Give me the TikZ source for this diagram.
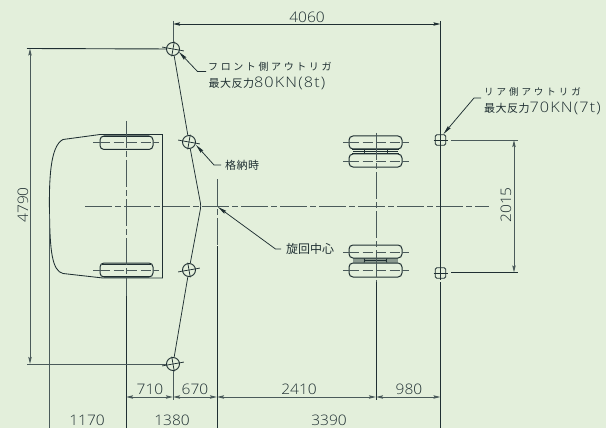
\documentclass[tikz,border=0pt]{standalone}
\usepackage{fontspec}
\usetikzlibrary{arrows.meta,calc}
\newfontfamily\dimf[FakeStretch=1.07]{Open Sans Light}
\newfontfamily\dimw[FakeStretch=1.12,LetterSpace=8]{Open Sans Light}
\newfontfamily\jpf[LetterSpace=26]{Noto Sans CJK JP}
\newfontfamily\jpr[LetterSpace=31]{Noto Sans CJK JP}
\newfontfamily\jpg[LetterSpace=4]{Noto Sans CJK JP}
\newfontfamily\jpn{Noto Sans CJK JP}
\definecolor{bgc}{HTML}{E3EFDB}
\definecolor{ink}{HTML}{1F2F32}
\definecolor{mid}{HTML}{4A5A5A}
\definecolor{pale}{HTML}{8B9A90}
\tikzset{
  x=1pt,y=-1pt,
  ln/.style={draw=ink,line width=0.9pt},
  thin line/.style={draw=ink,line width=0.75pt},
  gr/.style={draw=mid,line width=0.9pt},
  centre/.style={draw=mid,line width=0.9pt,dash pattern=on 27pt off 3pt on 6pt off 3pt},
  wheelaxis/.style={draw=mid,line width=0.9pt,dash pattern=on 10pt off 3.5pt},
  dimtip/.style={{Stealth[length=7pt,width=3.4pt,inset=1pt]}-{Stealth[length=7pt,width=3.4pt,inset=1pt]}},
  leadtip/.style={{Stealth[length=9pt,width=3.4pt,inset=1pt]}-},
  dimtext/.style={text=ink,inner sep=0pt,font=\dimf\fontsize{14.5}{15}\selectfont},
  jtext/.style={text=ink,inner sep=0pt,anchor=west,align=left},
  rig/.style={circle,draw=ink,line width=0.9pt,minimum size=13pt,inner sep=0pt},
  rigs/.style={rectangle,rounded corners=1.5pt,draw=ink,line width=0.9pt,minimum size=10.5pt,inner sep=0pt},
  tyre/.style={draw=ink,line width=1pt,rounded corners=4pt},
}
\begin{document}
\begin{tikzpicture}
\useasboundingbox (0,0) rectangle (606,428);
\fill[bgc] (0,0) rectangle (606,428);
% outriggers
\node[rig] (fa) at (173,49) {};
\node[rig] (fb) at (189,142) {};
\node[rig] (fc) at (189,270) {};
\node[rig] (fd) at (173,364) {};
\node[rigs] (ra) at (440.5,140) {};
\node[rigs] (rb) at (440.5,273) {};
\coordinate (apex) at (201,206);
\draw[thin line,rounded corners=3pt] (fa) -- (fb) -- (apex) -- (fc) -- (fd);
% outrigger centre ticks
\foreach \n/\a in {fa/10,fb/10,fc/-10,fd/-10}{
  \draw[thin line] ($(\n)+({-11*cos(\a)},{-11*sin(\a)})$) -- ($(\n)+({11*cos(\a)},{11*sin(\a)})$);
  \draw[thin line] ($(\n)+({-7.5*sin(\a)},{7.5*cos(\a)})$) -- ($(\n)+({7.5*sin(\a)},{-7.5*cos(\a)})$);
}
\draw[thin line] (433.5,140) -- (447.5,140) (440.5,133) -- (440.5,147);
\draw[thin line] (433.5,273) -- (447.5,273) (440.5,266) -- (440.5,280);
% truck body
\draw[ln,line width=0.85pt] (100,134.5) -- (162.5,134.5) -- (162.5,278) -- (103,278)
  -- (63,273.5) .. controls (52,271) and (50,250) .. (49.5,214)
  .. controls (49,180) and (50,146) .. (63,139.5) -- cycle;
% front wheels
\draw[tyre] (100,136) rectangle (153,149.5);
\draw[tyre] (100,263) rectangle (153,277);
\draw[ln] (102,136.8)--(151,136.8) (102,264)--(151,264) (102,276)--(151,276);
\draw[mid,line width=0.9pt] (93,142.5)--(100,142.5) (153,142.5)--(159,142.5) (93,270)--(100,270) (153,270)--(159,270);
\draw[wheelaxis] (100,142.5)--(153,142.5);
\draw[wheelaxis] (100,270)--(153,270);
% rear wheels
\fill[pale] (353,258) rectangle (398,263);
\draw[tyre] (349,136) rectangle (402,149);
\draw[tyre] (349,154) rectangle (402,167);
\draw[tyre] (349,245) rectangle (402,258);
\draw[tyre] (349,263) rectangle (402,277);
\foreach \yy in {142.5,161,252,270}{
  \draw[mid,line width=0.9pt] (343,\yy)--(349,\yy) (402,\yy)--(409,\yy);
  \draw[wheelaxis] (349,\yy)--(402,\yy);
}
\draw[ink,line width=0.7pt] (352,149.8)--(399,149.8) (353,151.5)--(398,151.5) (352,153.2)--(399,153.2);
\draw[ink,line width=1pt] (364,150)--(364,153) (387,150)--(387,153);
\draw[ink,line width=1.3pt] (364,260.5)--(387,260.5);
\draw[ink,line width=0.8pt] (364,258.5)--(365,260.5)--(364,262.5) (387,258.5)--(386,260.5)--(387,262.5);
% centre lines
\draw[centre] (85,206.5)--(489,206.5);
\draw[centre] (126,121)--(126,296);
\draw[centre] (217,179)--(217,246);
\draw[centre] (376,133)--(376,282);
\draw[ln] (126,296)--(126,428);
\draw[ln] (217,246)--(217,428);
\draw[ln] (376,282)--(376,400);
% extension lines
\coordinate (topL) at (173,21);
\coordinate (topR) at (440.5,21);
\draw[gr] (topL)--(fa);
\draw[ln] (topR)--(ra);
\draw[ln] (ra)--(rb);
\draw[ln] (440.5,282)--(440.5,428);
\draw[gr] (fd)--(173,400);
\draw[gr] (49.5,214)--(49.5,428);
\draw[ln] (27,48.5)--(fa);
\draw[gr] (27,364)--(fd);
\draw[gr] (451,140)--(518,140);
\draw[ln] (451,272.5)--(518,272.5);
% dimensions
\coordinate (tA) at (173,24);
\coordinate (tB) at (440.5,24);
\draw[ln,dimtip] (tA)--(tB);
\node[dimtext] (t4060) at (307,17) {4060};
\coordinate (lA) at (30,48.5);
\coordinate (lB) at (30,364);
\draw[gr,dimtip] (lA)--(lB);
\node[dimtext,rotate=90] (t4790) at (23,205) {4790};
\coordinate (rA) at (514,140);
\coordinate (rB) at (514,272.5);
\draw[gr,dimtip] (rA)--(rB);
\node[dimtext,rotate=90] (t2015) at (506,205) {2015};
\coordinate (b0) at (126,397);
\coordinate (b1) at (173,397);
\coordinate (b2) at (217,397);
\coordinate (b3) at (376,397);
\coordinate (b4) at (440.5,397);
\draw[gr,dimtip] (b0)--(b1);
\draw[gr,dimtip] (b1)--(b2);
\draw[gr,dimtip] (b2)--(b3);
\draw[gr,dimtip] (b3)--(b4);
\node[dimtext] (t710) at (150,389) {710};
\node[dimtext] (t670) at (195,389) {670};
\node[dimtext] (t2410) at (299,389) {2410};
\node[dimtext] (t980) at (409,389) {980};
\node[dimtext] (t1170) at (87,420) {1170};
\node[dimtext] (t1380) at (172,420) {1380};
\node[dimtext] (t3390) at (329,420) {3390};
% leaders and notes
\node[jtext] (nf1) at (208,66.5) {\jpf\fontsize{10}{12}\selectfont フロント側アウトリガ};
\node[jtext] (nf2) at (208.5,83) {\jpg\fontsize{11}{12}\selectfont 最大反力\dimw\fontsize{14.5}{15}\selectfont 80KN(8t)};
\draw[thin line,leadtip] ($(fa)+(6,3)$)--(197.5,71.5)--(206,71.5);
\node[jtext] (ns) at (225,165) {\jpg\fontsize{11}{12}\selectfont 格納時};
\draw[thin line,leadtip] ($(fb)+(7,3)$)--(214,165)--(221,165);
\node[jtext] (nc) at (286,249) {\jpn\fontsize{12}{12}\selectfont 旋回中心};
\draw[thin line,leadtip] (218,207)--(275.5,249)--(281,249);
\node[jtext] (nr1) at (484,92) {\jpr\fontsize{9.5}{12}\selectfont リア側アウトリガ};
\node[jtext] (nr2) at (484,108) {\jpg\fontsize{11}{12}\selectfont 最大反力\dimw\fontsize{14.5}{15}\selectfont 70KN(7t)};
\draw[thin line,leadtip] ($(ra)+(3,-6)$)--(474,98)--(481,98);
\end{tikzpicture}
\end{document}
